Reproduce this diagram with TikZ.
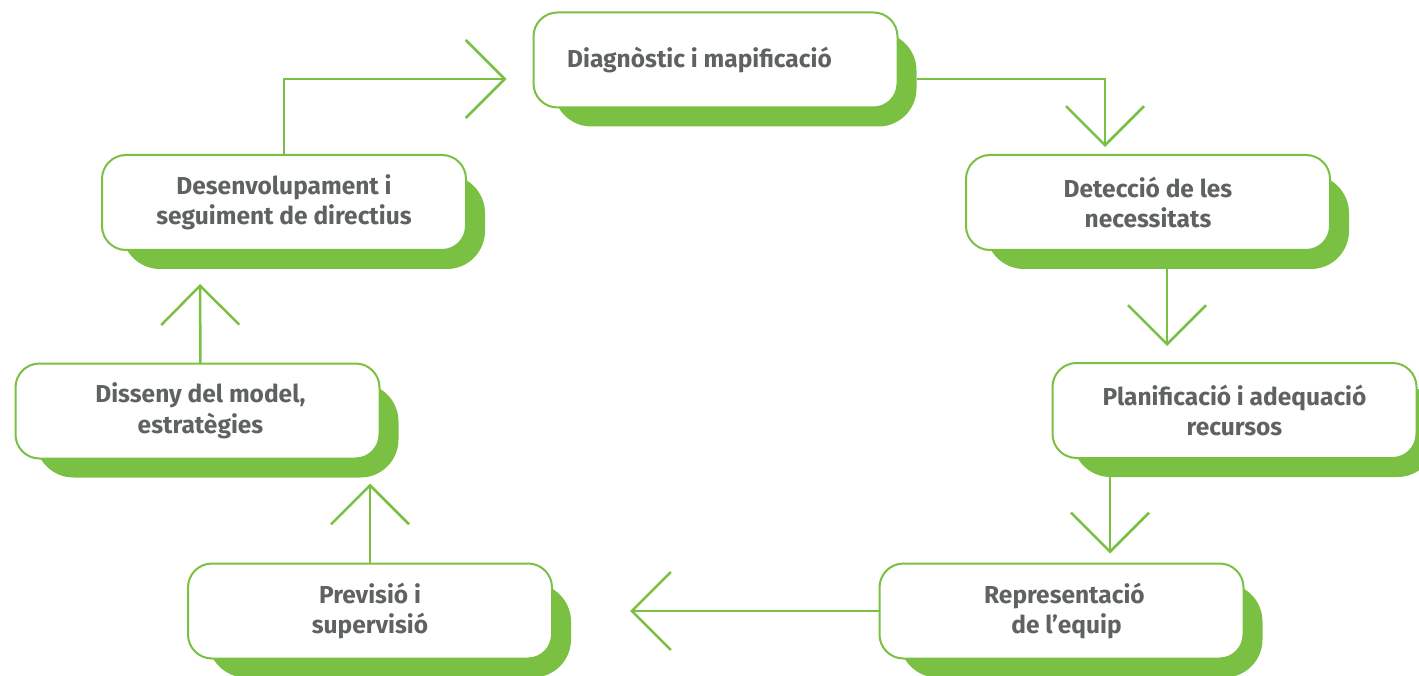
\documentclass[tikz,border=0pt]{standalone}
\usepackage{fontspec}
\setmainfont{Fira Sans}
\usetikzlibrary{arrows.meta,backgrounds}
\definecolor{leaf}{HTML}{7AC143}
\definecolor{ink}{HTML}{5F635F}
\tikzset{
  stagebox/.style={draw=leaf, line width=2pt, fill=white, rounded corners=24pt,
    minimum width=364pt, minimum height=95pt, outer sep=0pt, inner sep=0pt,
    align=center, text=ink, font=\fontsize{24.5}{30.5}\selectfont\bfseries},
  stagetext/.style={text=ink, font=\fontsize{24.5}{30.5}\selectfont\bfseries, inner sep=0pt},
  backdrop/.style={fill=leaf, rounded corners=38pt},
  flow/.style={draw=leaf, line width=2.5pt, -{Straight Barb[length=39pt,width=78pt]}}
}
\newcommand{\backdropof}[1]{%
  \fill[backdrop] ([shift={(20,20)}]#1.north west) rectangle ([shift={(19,19)}]#1.south east);}
\begin{document}
\begin{tikzpicture}[x=1pt,y=-1pt]
\useasboundingbox (0,0) rectangle (1419,676);

% stages of the cycle
\node[stagebox, label={[stagetext, xshift=-16pt]center:Diagnòstic i mapificació}] (b1) at (715.5,60) {};
\node[stagebox] (b2) at (1148,202.5) {Detecció de les\\necessitats};
\node[stagebox] (b3) at (1234.5,410.5) {Planificació i adequació\\recursos};
\node[stagebox] (b4) at (1061.5,611) {\hspace*{6pt}Representació\\\hspace*{10pt}de l’equip};
\node[stagebox] (b5) at (370,611) {Previsió i\\supervisió};
\node[stagebox] (b6) at (197.5,411) {\hspace*{6pt}Disseny del model,\\\hspace*{6pt}estratègies};
\node[stagebox] (b7) at (284,202.5) {Desenvolupament i\\seguiment de directius};

% offset green backdrops behind each stage
\begin{scope}[on background layer]
  \backdropof{b1}\backdropof{b2}\backdropof{b3}\backdropof{b4}
  \backdropof{b5}\backdropof{b6}\backdropof{b7}
\end{scope}

% connectors around the cycle
\draw[flow] (b7.north) |- ([shift={(-27,19)}]b1.west);
\draw[flow] ([shift={(19,19)}]b1.east) -| ([shift={(-43,-8)}]b2.north);
\draw[flow] ([shift={(19,19)}]b2.south) -- ([shift={(19,-17)}]b2.south |- b3.north);
\draw[flow] ([shift={(-124.5,19)}]b3.south) -- ([shift={(-124.5,-10)}]b3.south |- b4.north);
\draw[flow] (b4.west) -- ([xshift=78]b5.east);
\draw[flow] (b5.north) -- ([shift={(172.5,25)}]b6.south);
\draw[flow] ([xshift=3]b6.north) -- ([shift={(-84,34)}]b7.south);
\end{tikzpicture}
\end{document}
